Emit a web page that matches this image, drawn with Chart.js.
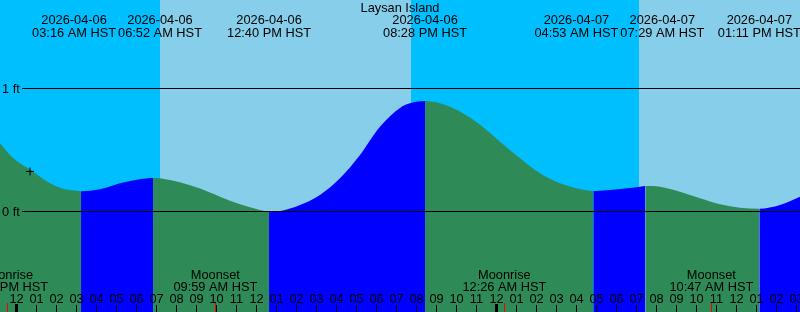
<!DOCTYPE html>
<html lang="en">
<head>
<meta charset="UTF-8">
<title>Laysan Island tides</title>
<script src="https://cdn.jsdelivr.net/npm/chart.js"></script>
<style>
    html,body{margin:0;padding:0;background:#fff;overflow:hidden}
    #tideChart{display:block}
</style>
</head>
<body>
<canvas id="tideChart" width="800" height="312"></canvas>
<script>
// hours after 2026-04-06 00:00 HST
const tideHours = [-0.785,-0.285,0.215,0.715,1.215,1.715,2.215,2.715,3.267,4.215,5.215,6.215,6.867,7.215,8.215,9.215,10.215,11.215,12.215,12.667,13.215,14.215,15.215,16.215,17.215,18.215,19.215,19.715,20.467,21.215,22.215,23.215,24.215,25.215,26.215,27.215,28.215,28.883,29.215,30.215,31.215,31.483,32.215,33.215,34.215,35.215,36.215,37.183,38.215,39.215];
const tideFeet = [0.553,0.458,0.390,0.340,0.281,0.228,0.192,0.173,0.163,0.179,0.228,0.260,0.271,0.268,0.236,0.185,0.119,0.057,0.011,-0.003,0.002,0.051,0.133,0.268,0.458,0.688,0.840,0.878,0.897,0.878,0.811,0.703,0.566,0.431,0.309,0.228,0.181,0.165,0.167,0.181,0.200,0.206,0.200,0.159,0.106,0.057,0.029,0.021,0.051,0.119];

// high / low events labelled along the top
const eventHours = [3.267,6.867,12.667,20.467,28.883,31.483,37.183];
const eventDates = ['2026-04-06','2026-04-06','2026-04-06','2026-04-06','2026-04-07','2026-04-07','2026-04-07'];
const eventTimes = ['03:16 AM HST','06:52 AM HST','12:40 PM HST','08:28 PM HST','04:53 AM HST','07:29 AM HST','01:11 PM HST'];

// moon events along the bottom
const moonHours = [-0.45,9.983,24.433,34.783];
const moonNames = ['Moonrise','Moonset','Moonrise','Moonset'];
const moonTimes = ['11:33 PM HST','09:59 AM HST','12:26 AM HST','10:47 AM HST'];

// daylight intervals [sunrise, sunset]
const dayStart = [7.2, 31.17];
const dayEnd = [19.77, 43];

const levelLines = [0, 1];
const levelLabels = ['0 ft', '1 ft'];
const midnights = [0, 24];
const nowMark = [{x: 0.715, y: 0.324}];

const FONT = '12.8px "Liberation Sans", Arial, sans-serif';
const NIGHT = '#00BFFF', DAY = '#87CEEB', RISE = '#0000FF', FALL = '#2E8B57';

const decor = {
    id: 'decor',
    beforeDraw(chart) {
        const {ctx, chartArea: a, scales: {x}} = chart;
        ctx.save();
        ctx.fillStyle = NIGHT;
        ctx.fillRect(a.left, a.top, a.right - a.left, a.bottom - a.top);
        ctx.fillStyle = DAY;
        dayStart.forEach((s, i) => {
            const x0 = Math.round(x.getPixelForValue(s)), x1 = Math.round(x.getPixelForValue(dayEnd[i]));
            ctx.fillRect(x0, a.top, x1 - x0, a.bottom - a.top);
        });
        ctx.restore();
    },
    afterDatasetsDraw(chart) {
        const {ctx, chartArea: a, scales: {x, y}} = chart;
        ctx.save();
        ctx.font = FONT;
        ctx.fillStyle = '#000';
        // level lines
        ctx.strokeStyle = '#000';
        ctx.lineWidth = 1;
        levelLines.forEach((v, i) => {
            const py = Math.round(y.getPixelForValue(v)) + 0.5;
            ctx.beginPath();
            ctx.moveTo(22, py);
            ctx.lineTo(a.right, py);
            ctx.stroke();
            ctx.textAlign = 'left';
            ctx.fillText(levelLabels[i], 2, py + 4.5);
        });

        // title
        ctx.textAlign = 'center';
        ctx.fillText('Laysan Island', 400, 12);

        // top event labels, pushed apart where they collide
        const w = eventTimes.map(t => ctx.measureText(t).width);
        const cx = eventHours.map(h => x.getPixelForValue(h));
        for (let i = 0; i < cx.length - 1; i++) {
            const need = (w[i] + w[i + 1]) / 2 + 2;
            const gap = cx[i + 1] - cx[i];
            if (gap < need) {
                const d = (need - gap) / 2;
                cx[i] -= d;
                cx[i + 1] += d;
            }
        }
        cx.forEach((c, i) => {
            ctx.fillText(eventDates[i], c, 24);
            ctx.fillText(eventTimes[i], c, 36.5);
        });

        // moon labels
        moonHours.forEach((h, i) => {
            const c = x.getPixelForValue(h);
            ctx.fillText(moonNames[i], c, 278.5);
            ctx.fillText(moonTimes[i], c, 290.5);
        });

        // hour ticks and labels
        for (let h = Math.ceil(x.min); h <= Math.floor(x.max); h++) {
            const px = Math.round(x.getPixelForValue(h));
            ctx.fillRect(px, 305, 1, 7);
            const hr = ((h % 24) + 24) % 24 % 12 || 12;
            ctx.fillText(String(hr).padStart(2, '0'), px + 0.5, 302.5);
        }
        midnights.forEach(h => {
            const px = Math.round(x.getPixelForValue(h));
            ctx.fillRect(px - 1, 304, 3, 8);
        });
        ctx.fillStyle = '#FF0000';
        moonHours.forEach(h => {
            const px = Math.round(x.getPixelForValue(h));
            ctx.fillRect(px, 303, 1, 9);
        });
        ctx.restore();
    }
};

new Chart(document.getElementById('tideChart'), {
    data: {
        datasets: [{
            type: 'line',
            data: tideHours.map((h, i) => ({x: h, y: tideFeet[i]})),
            fill: 'start',
            backgroundColor: FALL,
            borderWidth: 0,
            borderColor: 'rgba(0,0,0,0)',
            pointRadius: 0,
            cubicInterpolationMode: 'monotone',
            segment: {
                backgroundColor: c => c.p1.parsed.y > c.p0.parsed.y ? RISE : FALL
            },
            order: 2
        }, {
            type: 'scatter',
            data: nowMark,
            pointStyle: 'cross',
            pointRadius: 4,
            borderColor: '#000',
            borderWidth: 1,
            order: 1
        }]
    },
    options: {
        responsive: false,
        animation: false,
        events: [],
        layout: {padding: 0, autoPadding: false},
        plugins: {legend: {display: false}, tooltip: {enabled: false}},
        scales: {
            x: {type: 'linear', min: -0.785, max: 39.215, display: false},
            y: {type: 'linear', min: -0.819, max: 1.718, display: false}
        }
    },
    plugins: [decor]
});
</script>
</body>
</html>
